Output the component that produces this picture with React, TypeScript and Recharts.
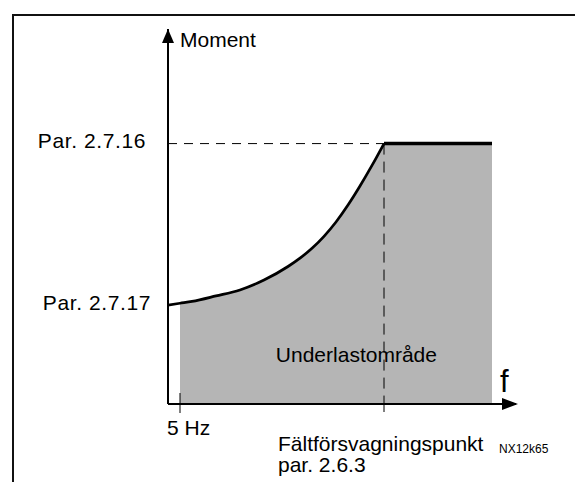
import React from 'react';
import {
  ComposedChart,
  Area,
  Line,
  XAxis,
  YAxis,
  ReferenceLine,
  ReferenceDot,
} from 'recharts';

document.body.style.margin = '0';
document.documentElement.style.overflow = 'hidden';

// torque curve up to the field weakening point (abstract units)
const curveFreq = [0, 5, 10, 20, 30, 40, 50, 55, 60, 65, 70, 75, 80, 85, 90];
const curveTorque = [38, 38.7, 39.4, 41.5, 43.8, 47.6, 52.8, 56.0, 59.8, 64.4, 69.9, 76.4, 83.7, 91.6, 100];
// flat part above the field weakening point
const flatFreq = [90, 135];
const flatTorque = [100, 100];
const fillStartFreq = 5;
const fieldWeakeningFreq = 90;

const xTickValues = [5, 90];
const xTickLabels: Record<number, string[]> = {
  5: ['5 Hz'],
  90: ['Fältförsvagningspunkt', 'par. 2.6.3'],
};
const yTickValues = [38, 100];
const yTickLabels: Record<number, string> = {
  38: 'Par. 2.7.17',
  100: 'Par. 2.7.16',
};

const FONT = '"Liberation Sans", Arial, sans-serif';
const FS = 21;

const freqs = Array.from(new Set([...curveFreq, ...flatFreq])).sort((a, b) => a - b);
const data = freqs.map((f) => {
  const ci = curveFreq.indexOf(f);
  const fi = flatFreq.indexOf(f);
  return {
    f,
    curve: ci >= 0 ? curveTorque[ci] : null,
    fillCurve: ci >= 0 && f >= fillStartFreq ? curveTorque[ci] : null,
    flat: fi >= 0 ? flatTorque[fi] : null,
  };
});

const XTick = (props: any) => {
  const { x, y, payload } = props;
  const v = payload.value;
  if (v === 5) {
    return (
      <g>
        <line x1={x} y1={y - 11} x2={x} y2={y + 9} stroke="#000" strokeWidth={1} />
        <text x={x - 13} y={y + 31} fontSize={FS} fontFamily={FONT} fill="#000">
          {xTickLabels[5][0]}
        </text>
      </g>
    );
  }
  return (
    <g>
      <line x1={x} y1={y} x2={x} y2={y + 8} stroke="#000" strokeWidth={1} />
      <text x={x - 106} y={y + 47} fontSize={FS} fontFamily={FONT} fill="#000">
        {xTickLabels[90][0]}
      </text>
      <text x={x - 106} y={y + 68} fontSize={FS} fontFamily={FONT} fill="#000">
        {xTickLabels[90][1]}
      </text>
      <text x={x + 115} y={y + 49} fontSize={12} fontFamily={FONT} fill="#000">
        NX12k65
      </text>
    </g>
  );
};

const YTick = (props: any) => {
  const { x, y, payload } = props;
  const v = payload.value;
  const dx = v === 100 ? -22 : -17;
  const dy = v === 100 ? 4 : 5;
  return (
    <text
      x={x + dx}
      y={y + dy}
      textAnchor="end"
      fontSize={FS}
      letterSpacing={0.6}
      fontFamily={FONT}
      fill="#000"
    >
      {yTickLabels[v]}
    </text>
  );
};

const App: React.FC = () => {
  return (
    <div style={{ position: 'relative', width: 575, height: 482, overflow: 'hidden', background: '#fff' }}>
      <div
        style={{
          position: 'absolute',
          left: 12,
          top: 14,
          width: 620,
          height: 520,
          borderLeft: '2px solid #111',
          borderTop: '2px solid #111',
        }}
      />
      <div style={{ position: 'absolute', left: 0, top: 0 }}>
        <ComposedChart
          width={575}
          height={482}
          data={data}
          margin={{ top: 29, right: 59, bottom: 77, left: 167 }}
        >
          <XAxis
            dataKey="f"
            type="number"
            domain={[0, 145]}
            ticks={xTickValues}
            tick={<XTick />}
            tickLine={false}
            tickSize={0}
            tickMargin={0}
            height={1}
            axisLine={{ stroke: '#000', strokeWidth: 2 }}
            allowDataOverflow
          />
          <YAxis
            type="number"
            domain={[0, 144]}
            ticks={yTickValues}
            tick={<YTick />}
            tickLine={false}
            tickSize={0}
            tickMargin={0}
            width={1}
            axisLine={{ stroke: '#000', strokeWidth: 2 }}
            allowDataOverflow
          />
          <Area
            dataKey="fillCurve"
            type="monotoneX"
            fill="#b5b5b5"
            fillOpacity={1}
            stroke="none"
            isAnimationActive={false}
          />
          <Area
            dataKey="flat"
            type="linear"
            fill="#b5b5b5"
            fillOpacity={1}
            stroke="none"
            isAnimationActive={false}
          />
          <ReferenceLine
            segment={[{ x: 0, y: flatTorque[0] }, { x: fieldWeakeningFreq, y: flatTorque[0] }]}
            stroke="#000"
            strokeWidth={1}
            strokeDasharray="9 7"
          />
          <ReferenceLine
            segment={[{ x: fieldWeakeningFreq, y: flatTorque[0] }, { x: fieldWeakeningFreq, y: 0 }]}
            stroke="#000"
            strokeWidth={1}
            strokeDasharray="11 7"
          />
          <Line
            dataKey="curve"
            type="monotoneX"
            stroke="#000"
            strokeWidth={2.7}
            dot={false}
            isAnimationActive={false}
          />
          <Line
            dataKey="flat"
            type="linear"
            stroke="#000"
            strokeWidth={3.5}
            dot={false}
            isAnimationActive={false}
          />
          <ReferenceDot
            x={0}
            y={144}
            ifOverflow="visible"
            shape={(p: any) => (
              <g>
                <path d={`M${p.cx},${p.cy} L${p.cx - 6},${p.cy + 14} L${p.cx + 6},${p.cy + 14} Z`} fill="#000" />
                <text x={p.cx + 12} y={p.cy + 18} fontSize={FS} fontFamily={FONT} fill="#000">
                  Moment
                </text>
              </g>
            )}
          />
          <ReferenceDot
            x={145}
            y={0}
            ifOverflow="visible"
            shape={(p: any) => (
              <g>
                <path d={`M${p.cx + 2},${p.cy} L${p.cx - 14},${p.cy - 6} L${p.cx - 14},${p.cy + 6} Z`} fill="#000" />
                <text x={p.cx - 16} y={p.cy - 12} fontSize={31} fontFamily={FONT} fill="#000">
                  f
                </text>
              </g>
            )}
          />
          <ReferenceDot
            x={78.5}
            y={19}
            ifOverflow="visible"
            shape={(p: any) => (
              <text x={p.cx} y={p.cy + 7} textAnchor="middle" fontSize={FS} fontFamily={FONT} fill="#000">
                Underlastområde
              </text>
            )}
          />
        </ComposedChart>
      </div>
    </div>
  );
};

export default App;
